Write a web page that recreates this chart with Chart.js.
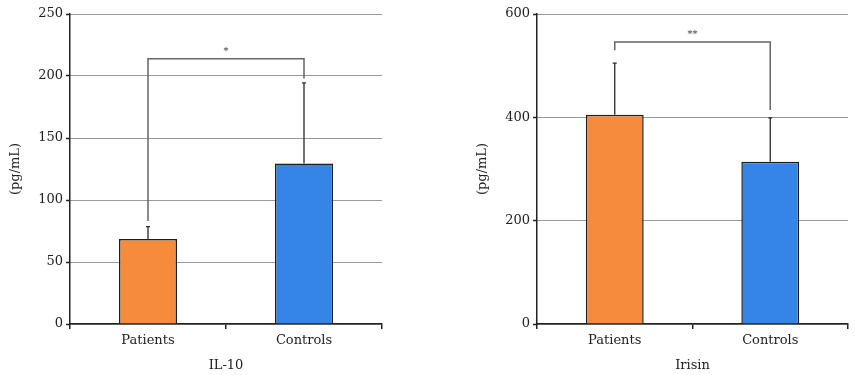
<!DOCTYPE html>
<html>
<head>
<meta charset="utf-8">
<script src="https://cdn.jsdelivr.net/npm/chart.js@4.4.0/dist/chart.umd.min.js"></script>
<style>
    body { margin: 0; width: 855px; height: 375px; position: relative; background: #fff; overflow: hidden; }
    .box { position: absolute; top: 0; height: 375px; }
    #left-box { left: 0; width: 390px; }
    #right-box { left: 440px; width: 415px; }
</style>
</head>
<body>
<div class="box" id="left-box"><canvas id="il10-chart"></canvas></div>
<div class="box" id="right-box"><canvas id="irisin-chart"></canvas></div>
<script>
const categories = ['Patients', 'Controls'];
const barColors = ['#F68A3D', '#3585E8'];

// IL-10: mean and upper SD
const il10Means = [68.5, 129.5];
const il10Errors = [10, 65];
// bracket: [left leg end, top, right leg end]
const il10Bracket = [83, 214, 198];
const il10Stars = '*';
const il10Ticks = [0, 50, 100, 150, 200, 250];

// Irisin
const irisinMeans = [405, 314];
const irisinErrors = [100, 85];
const irisinBracket = [530, 546, 414];
const irisinStars = '**';
const irisinTicks = [0, 200, 400, 600];

const FONT = '"DejaVu Serif", "Liberation Serif", serif';

const errorBarsPlugin = {
    id: 'errorBars',
    afterDatasetsDraw(chart, args, opts) {
        const ctx = chart.ctx;
        const x = chart.scales.x;
        const y = chart.scales.y;
        ctx.save();
        // error bars (upper only)
        ctx.strokeStyle = '#2a2a2a';
        ctx.lineWidth = 1.3;
        opts.means.forEach((m, i) => {
            const px = x.getPixelForValue(i);
            const y0 = y.getPixelForValue(m);
            const y1 = y.getPixelForValue(m + opts.errors[i]);
            ctx.beginPath();
            ctx.moveTo(px, y0);
            ctx.lineTo(px, y1);
            ctx.moveTo(px - 2, y1);
            ctx.lineTo(px + 2, y1);
            ctx.stroke();
        });
        // significance bracket
        const [leftEnd, top, rightEnd] = opts.bracket;
        const xa = x.getPixelForValue(0);
        const xb = x.getPixelForValue(1);
        const yt = y.getPixelForValue(top);
        ctx.strokeStyle = '#666';
        ctx.lineWidth = 1.5;
        ctx.beginPath();
        ctx.moveTo(xa, y.getPixelForValue(leftEnd));
        ctx.lineTo(xa, yt);
        ctx.lineTo(xb, yt);
        ctx.lineTo(xb, y.getPixelForValue(rightEnd));
        ctx.stroke();
        ctx.fillStyle = '#333';
        ctx.font = '10px ' + FONT;
        ctx.textAlign = 'center';
        ctx.textBaseline = 'alphabetic';
        ctx.fillText(opts.stars, (xa + xb) / 2, yt - 5);
        ctx.restore();
    }
};

function createBarChart(canvasId, title, means, errors, bracket, stars, ticks, yWidth, yTitlePad, padRight) {
    const ctx = document.getElementById(canvasId).getContext('2d');
    const step = ticks[1] - ticks[0];
    new Chart(ctx, {
        type: 'bar',
        data: {
            labels: categories,
            datasets: [{
                data: means,
                backgroundColor: barColors,
                borderColor: '#1e1e1e',
                borderWidth: 1.5,
                barPercentage: 0.372,
                categoryPercentage: 1
            }]
        },
        options: {
            responsive: true,
            maintainAspectRatio: false,
            animation: false,
            layout: { padding: { top: 14, right: padRight, bottom: 0, left: 0 } },
            plugins: {
                legend: { display: false },
                tooltip: { enabled: false },
                errorBars: { means: means, errors: errors, bracket: bracket, stars: stars }
            },
            scales: {
                x: {
                    offset: true,
                    grid: { offset: true, drawOnChartArea: false, drawTicks: true, tickLength: 5, color: '#222', lineWidth: 1.5 },
                    border: { color: '#222', width: 1.5 },
                    ticks: { color: '#222', padding: 4, font: { family: FONT, size: 13 } },
                    title: { display: true, text: title, color: '#222', padding: { top: 0, bottom: 2 }, font: { family: FONT, size: 13 } },
                    afterFit(scale) { scale.height = 51; }
                },
                y: {
                    min: ticks[0],
                    max: ticks[ticks.length - 1],
                    afterBuildTicks(scale) { scale.ticks = ticks.map(v => ({ value: v })); },
                    grid: {
                        color: '#333', lineWidth: 1,
                        tickLength: 4, tickColor: '#222', tickWidth: 1.5, tickBorderDash: []
                    },
                    // in v4 border.dash is what dashes the grid lines
                    border: { color: '#222', width: 1.5, dash: [1, 1] },
                    ticks: { stepSize: step, color: '#222', padding: 3, font: { family: FONT, size: 13 } },
                    title: { display: true, text: '(pg/mL)', color: '#222', padding: { top: yTitlePad, bottom: 0 }, font: { family: FONT, size: 13 } },
                    afterFit(scale) { scale.width = yWidth; }
                }
            }
        },
        plugins: [errorBarsPlugin]
    });
}

createBarChart('il10-chart', 'IL-10', il10Means, il10Errors, il10Bracket, il10Stars, il10Ticks, 70, 8, 8);
createBarChart('irisin-chart', 'Irisin', irisinMeans, irisinErrors, irisinBracket, irisinStars, irisinTicks, 97, 35, 7);
</script>
</body>
</html>
